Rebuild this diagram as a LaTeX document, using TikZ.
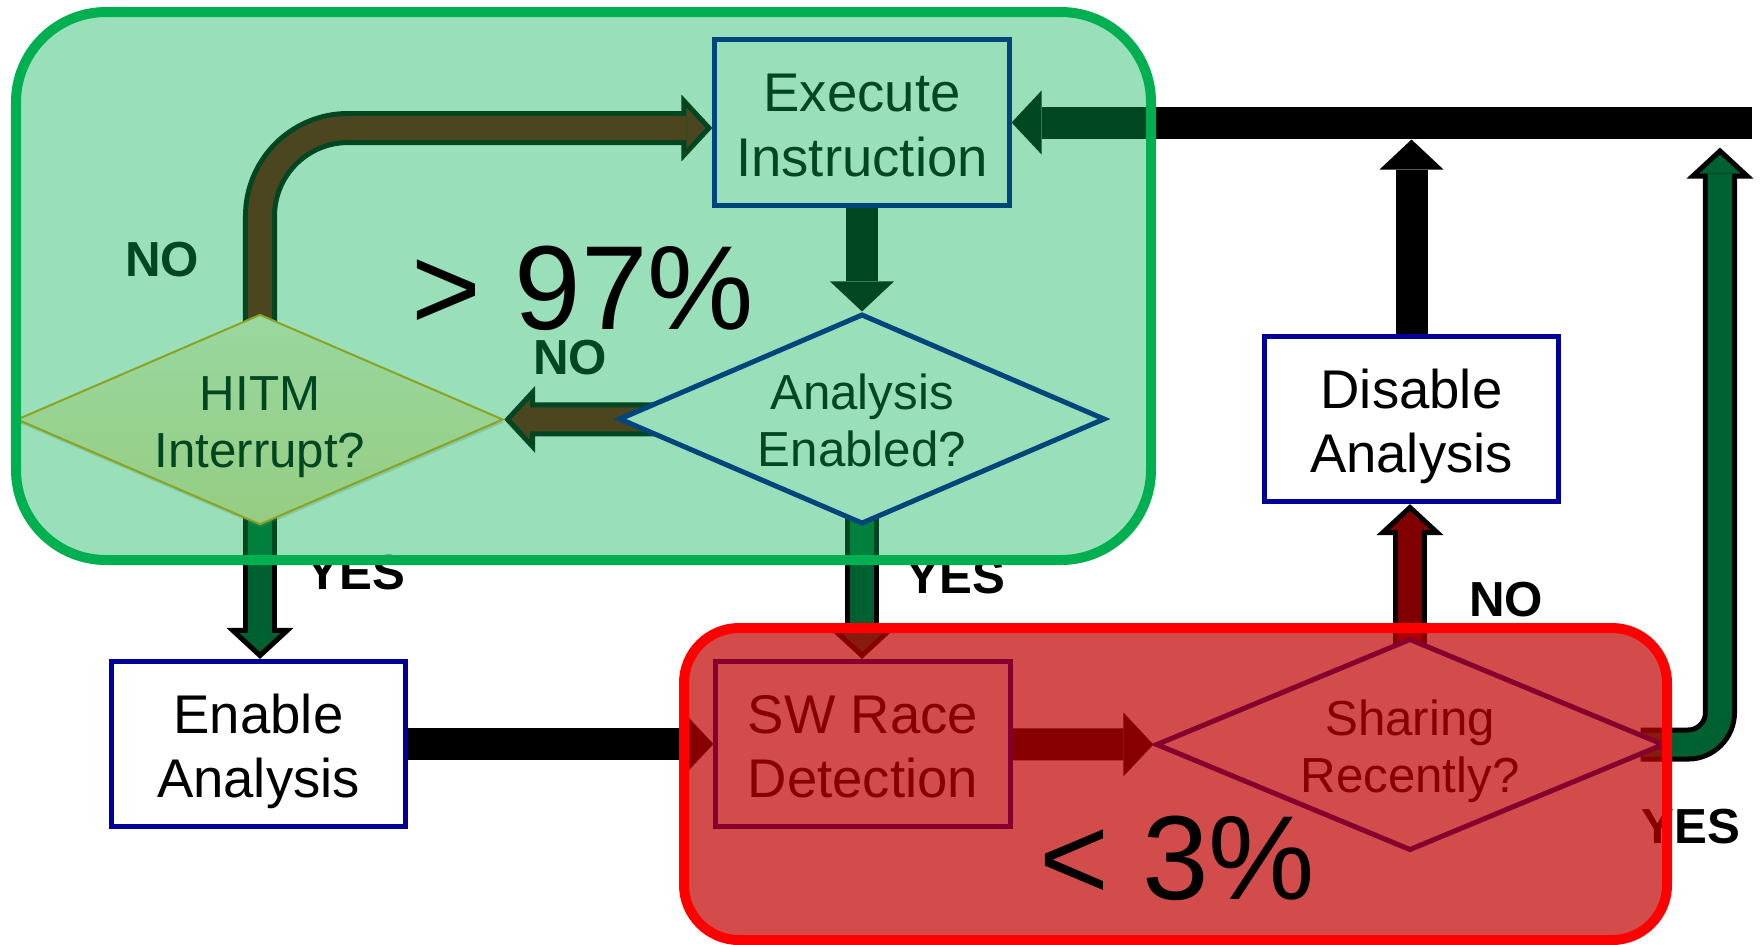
\documentclass[tikz,border=0pt]{standalone}
\usepackage{fontspec}
\setmainfont{Liberation Sans}
\usetikzlibrary{arrows.meta,shapes.geometric,shadows,backgrounds}

\definecolor{navy}{RGB}{0,0,153}
\definecolor{nored}{RGB}{128,0,0}
\definecolor{yesgreen}{RGB}{0,97,48}
\definecolor{zonegreen}{RGB}{0,176,80}
\definecolor{zonered}{RGB}{192,0,0}
\definecolor{hitmtop}{RGB}{255,242,213}
\definecolor{hitmbot}{RGB}{250,225,163}
\definecolor{hitmline}{RGB}{232,155,0}

% struts for first and last line, so that descenders do not lift the text
\newcommand{\ascstrut}{\rule{0pt}{1.0em}}
\newcommand{\descstrut}{\rule[-0.21em]{0pt}{0.21em}}

\tikzset{
  box/.style={draw=navy, line width=0.05cm, fill=white, minimum width=2.94cm,
    minimum height=1.65cm, inner sep=0pt, align=center,
    font=\fontsize{15.5}{18.4}\selectfont},
  ask/.style={diamond, draw=navy, line width=0.05cm, fill=white, aspect=2.3,
    minimum width=4.86cm, minimum height=2.1cm, inner sep=0pt, align=center,
    font=\fontsize{14}{16.2}\selectfont},
  tag/.style={font=\fontsize{14}{16}\selectfont\bfseries},
  bigpct/.style={font=\fontsize{34}{40}\selectfont},
  blkarrow/.style={line width=0.32cm,
    -{Triangle[length=0.3cm, width=0.64cm, line width=0pt]}},
  outlined/.style={preaction={draw=black, line width=0.34cm, shorten >=0pt,
      -{Triangle[length=0.31cm, width=0.66cm, line width=0.05cm, fill=#1]}},
    draw=#1, line width=0.24cm, shorten >=0.26cm},
  noarrow/.style={outlined=nored},
  yesarrow/.style={outlined=yesgreen},
}

\begin{document}
\begin{tikzpicture}[x=0.01cm,y=-0.01cm]
\useasboundingbox (0,0) rectangle (1760,944);

% steps and questions
\node[box] (exec) at (862,122.5) {\ascstrut Execute\\Instruction\descstrut};
\node[ask] (ana) at (862,419) {\ascstrut Analysis\\Enabled?\descstrut};
\node[ask, draw=hitmline, line width=0.02cm, top color=hitmtop, bottom color=hitmbot,
  drop shadow={shadow xshift=0.01cm, shadow yshift=-0.03cm, opacity=0.3}]
  (hitm) at (260,419.5) {\ascstrut HITM\\Interrupt?\descstrut};
\node[box] (enab) at (258.5,744) {\ascstrut Enable\\Analysis\descstrut};
\node[box] (race) at (863,744) {\ascstrut SW Race\\Detection\descstrut};
\node[ask, aspect=2.4, minimum width=5.08cm, minimum height=2.12cm]
  (share) at (1410,744.5) {\ascstrut Sharing\\Recently?\descstrut};
\node[box] (dis) at (1411.5,419) {\ascstrut Disable\\Analysis\descstrut};
\coordinate (barend) at (1752,122.5);

% answers
\node[tag] (no1) at (162,260) {NO};
\node[tag] (no2) at (570,358) {NO};
\node[tag] (yes1) at (356,573) {YES};
\node[tag] (yes2) at (956,577) {YES};
\node[tag] (no3) at (1506,600) {NO};
\node[tag] (yes3) at (1691,827) {YES};

% connectors, behind the nodes
\begin{scope}[on background layer]
\draw[blkarrow] (exec.center) -- (ana.north);
\draw[noarrow] (ana.center) -- (hitm.east);
\draw[noarrow, rounded corners=0.88cm] (hitm.center) |- ([yshift=-0.055cm]exec.west);
\draw[yesarrow] (hitm.center) -- (hitm |- enab.north);
\draw[yesarrow] (ana.center) -- (ana |- race.north);
\draw[blkarrow] (enab.center) -- (race.west);
\draw[blkarrow] (race.center) -- (share.west);
\draw[noarrow] (share.center) -- (share |- dis.south);
\draw[blkarrow] (dis.center) -- ([yshift=-0.17cm]dis |- barend);
\draw[blkarrow] (barend) -- (exec.east);
\draw[yesarrow, rounded corners=0.32cm] ([xshift=-0.26cm]share.east)
  -| ([xshift=-0.32cm,yshift=-0.25cm]barend);
\end{scope}

% zones
\draw[draw=zonegreen, fill=zonegreen, fill opacity=0.4, line width=0.1cm,
  rounded corners=0.9cm] (16,12) rectangle (1151,560);
\draw[draw=red, fill=zonered, fill opacity=0.7, line width=0.1cm,
  rounded corners=0.55cm] (684,628) rectangle (1667,940);

\node[bigpct] (hi) at (583,288) {> 97\%};
\node[bigpct] (lo) at (1177,858) {< 3\%};
\end{tikzpicture}
\end{document}
